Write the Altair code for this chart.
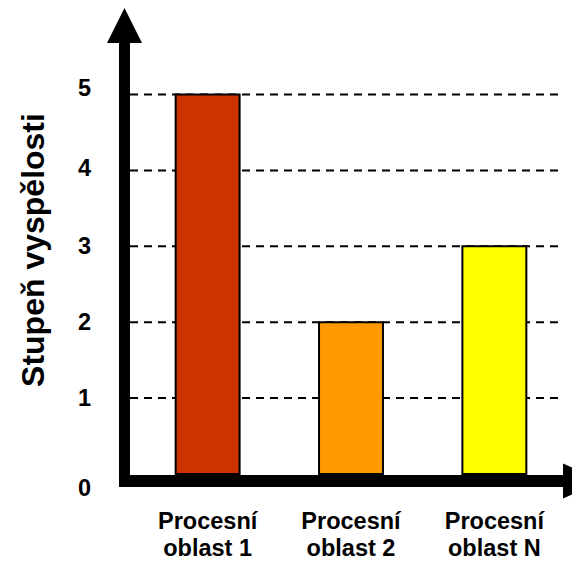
import altair as alt
import pandas as pd

# ---- data ----
categories = ["Procesní\noblast 1", "Procesní\noblast 2", "Procesní\noblast N"]
levels = [5, 2, 3]
bar_colors = ["#CC3300", "#FF9900", "#FFFF00"]
tick_values = [0, 1, 2, 3, 4, 5]
grid_values = [1, 2, 3, 4, 5]
y_title = "Stupeň vyspělosti"

bars_df = pd.DataFrame({"oblast": categories, "stupen": levels})
grid_df = pd.DataFrame({"stupen": grid_values})
one = pd.DataFrame({"k": [0]})

FONT = "Liberation Sans"
W, H = 442, 466

yscale = alt.Scale(domain=[0, 6.14], nice=False, zero=True)
xscale = alt.Scale(domain=categories, paddingInner=0.554, paddingOuter=0.3185)

label_offset = {
    "condition": [
        {"test": "datum.value === 0", "value": 14},
        {"test": "datum.value === 5", "value": -6},
        {"test": "datum.value === 4", "value": -2},
    ],
    "value": 0,
}

y_axis = alt.Axis(
    values=tick_values,
    title=y_title,
    titleFont=FONT,
    titleFontSize=32,
    titleFontWeight="bold",
    titleColor="black",
    titleAngle=270,
    titleAlign="center",
    titleBaseline="alphabetic",
    titleX=-86.7,
    titleY=241.5,
    labelFont=FONT,
    labelFontSize=23.5,
    labelFontWeight="bold",
    labelColor="black",
    labelAlign="right",
    labelBaseline="middle",
    labelPadding=39.5,
    labelOffset=label_offset,
    ticks=False,
    tickSize=0,
    domain=False,
    grid=False,
)

grid = alt.Chart(grid_df).mark_rule(color="black", strokeWidth=2, strokeDash=[8, 6]).encode(
    y=alt.Y("stupen:Q", scale=yscale, axis=y_axis, title=y_title),
    x=alt.value(0),
    x2=alt.value(430),
)

bars = alt.Chart(bars_df).mark_bar(stroke="black", strokeWidth=2).encode(
    x=alt.X(
        "oblast:N",
        sort=categories,
        scale=xscale,
        axis=alt.Axis(
            title=None,
            labelExpr="split(datum.label, '\\n')",
            labelAngle=0,
            labelFont=FONT,
            labelFontSize=23.5,
            labelFontWeight="bold",
            labelColor="black",
            labelLineHeight=27,
            labelBaseline="alphabetic",
            labelPadding=54,
            ticks=False,
            tickSize=0,
            domain=False,
            grid=False,
        ),
    ),
    y=alt.Y("stupen:Q", scale=yscale, axis=y_axis, title=y_title),
    color=alt.Color("oblast:N", scale=alt.Scale(domain=categories, range=bar_colors), legend=None),
)

y_shaft = alt.Chart(one).mark_rule(color="black", strokeWidth=11).encode(
    x=alt.value(-5.5), y=alt.value(30), y2=alt.value(479)
)
x_shaft = alt.Chart(one).mark_rule(color="black", strokeWidth=12).encode(
    y=alt.value(473), x=alt.value(-11), x2=alt.value(435)
)
up_head = alt.Chart(one).mark_point(
    shape="M0,-1L1,1L-1,1Z", size=1225, filled=True, color="black", opacity=1, strokeWidth=0
).encode(x=alt.value(-5.5), y=alt.value(17.5))
right_head = alt.Chart(one).mark_point(
    shape="M1,0L-1,0.875L-1,-0.875Z", size=1600, filled=True, color="black", opacity=1, strokeWidth=0
).encode(x=alt.value(453), y=alt.value(473))

chart = alt.layer(grid, bars, y_shaft, x_shaft, up_head, right_head).properties(
    width=W,
    height=H,
    padding={"left": 122, "top": 0, "right": 0, "bottom": 87},
    autosize=alt.AutoSizeParams(type="none"),
).configure_view(stroke=None)

chart.save("out.html", embed_options={"renderer": "svg", "actions": False})
